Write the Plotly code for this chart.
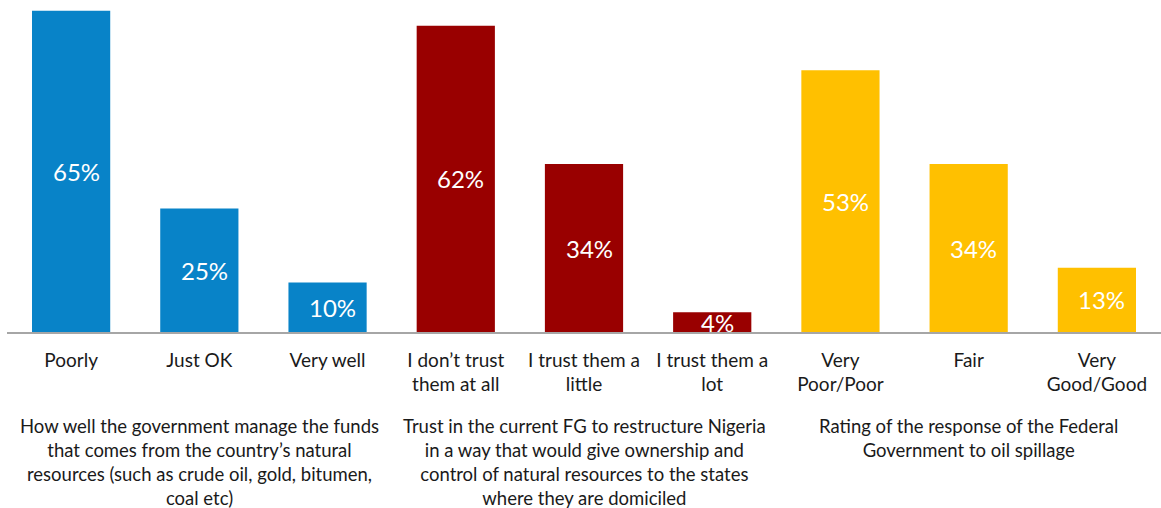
import plotly.graph_objects as go

# Survey response categories (three questions, three answers each)
categories = [
    "Poorly", "Just OK", "Very well",
    "I don’t trust<br>them at all", "I trust them a<br>little", "I trust them a<br>lot",
    "Very<br>Poor/Poor", "Fair", "Very<br>Good/Good",
]
values = [65, 25, 10, 62, 34, 4, 53, 34, 13]
group_colors = ["#0883C8"] * 3 + ["#990000"] * 3 + ["#FFC000"] * 3

questions = [
    "How well the government manage the funds<br>that comes from the country’s natural<br>resources (such as crude oil, gold, bitumen,<br>coal etc)",
    "Trust in the current FG to restructure Nigeria<br>in a way that would give ownership and<br>control of natural resources to the states<br>where they are domiciled",
    "Rating of the response of the Federal<br>Government to oil spillage",
]
question_centers = [1, 4, 7]

FONT = "Lato, 'Open Sans', sans-serif"
xs = list(range(len(categories)))

fig = go.Figure(
    go.Bar(
        x=xs,
        y=values,
        marker=dict(color=group_colors, line=dict(width=0)),
        cliponaxis=False,
        hoverinfo="skip",
    )
)

# Value labels, centred vertically inside each bar
for x, v in zip(xs, values):
    fig.add_annotation(
        x=x, y=v / 2, xref="x", yref="y",
        text=f"{v}%", showarrow=False, xshift=5,
        xanchor="center", yanchor="middle",
        font=dict(family=FONT, size=24, color="white"),
    )

for cx, q in zip(question_centers, questions):
    fig.add_annotation(
        x=cx, xref="x", y=-0.245, yref="paper",
        text=q, showarrow=False, xanchor="center", yanchor="top",
        align="center",
        font=dict(family=FONT, size=18.5, color="#1a1a1a"),
    )

fig.update_layout(
    width=1161, height=508,
    margin=dict(l=7, r=0, t=0, b=176),
    paper_bgcolor="white", plot_bgcolor="white",
    bargap=0.39,
    showlegend=False,
)
fig.update_xaxes(
    tickmode="array",
    tickvals=xs,
    ticktext=categories,
    range=[-0.5, len(categories) - 0.5],
    showline=True, linecolor="#A6A6A6", linewidth=1.5,
    showgrid=False, zeroline=False, ticks="",
    tickfont=dict(family=FONT, size=19, color="#1a1a1a"),
    ticklabelstandoff=10,
)
fig.update_yaxes(
    range=[0, 67.2], visible=False, showgrid=False, zeroline=False,
)

fig.write_html("out.html")
